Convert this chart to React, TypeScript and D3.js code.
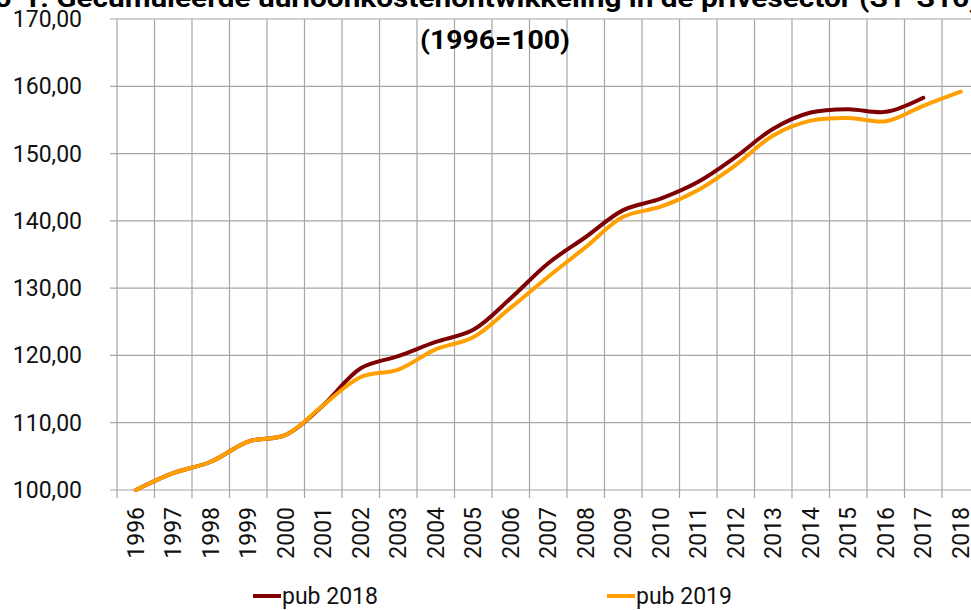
import React, { useRef, useEffect } from 'react';
import * as d3 from 'd3';

const years = ['1996', '1997', '1998', '1999', '2000', '2001', '2002', '2003', '2004', '2005', '2006', '2007',
  '2008', '2009', '2010', '2011', '2012', '2013', '2014', '2015', '2016', '2017', '2018'];
const pub2018 = [100, 102.5, 104.2, 107.2, 108.2, 112.6, 118.1, 119.9, 122.0, 123.8, 128.5, 133.7,
  137.6, 141.6, 143.3, 145.8, 149.5, 153.7, 156.1, 156.6, 156.2, 158.3];
const pub2019 = [100, 102.5, 104.2, 107.2, 108.2, 112.6, 116.8, 117.9, 120.9, 122.7, 127.1, 131.7,
  136.1, 140.6, 142.1, 144.6, 148.3, 152.7, 154.9, 155.3, 154.8, 157.1, 159.2];
const yTicks = [100, 110, 120, 130, 140, 150, 160, 170];
const seriesNames = ['pub 2018', 'pub 2019'];
const seriesColors = ['#7f0000', '#ffa000'];

const App = () => {
  const ref = useRef<SVGSVGElement>(null);
  useEffect(() => {
    const svg = d3.select(ref.current);
    svg.selectAll('*').remove();
    const font = 'Roboto, sans-serif';
    const grid = '#a6a6a6';

    const x = d3.scaleBand().domain(years).range([117, 979.5]);
    const y = d3.scaleLinear().domain([100, 170]).range([490, 19]);
    const cx = (d: string) => (x(d) as number) + x.bandwidth() / 2;

    // horizontal grid + y ticks
    svg.append('g').selectAll('line').data(yTicks).join('line')
      .attr('x1', 110).attr('x2', 980).attr('y1', d => y(d)).attr('y2', d => y(d))
      .attr('stroke', grid).attr('stroke-width', 1.2);
    // vertical grid at band boundaries
    const bounds = years.map(d => x(d) as number);
    svg.append('g').selectAll('line').data(bounds).join('line')
      .attr('x1', d => d).attr('x2', d => d).attr('y1', y(170)).attr('y2', 498)
      .attr('stroke', grid).attr('stroke-width', 1.2);

    svg.append('g').selectAll('text').data(yTicks).join('text')
      .attr('x', 82).attr('y', d => y(d) + 8).attr('text-anchor', 'end')
      .style('font-family', font).style('font-size', '23px').style('fill', '#111')
      .text(d => d.toFixed(2).replace('.', ','));

    svg.append('g').selectAll('text').data(years).join('text')
      .attr('transform', d => `translate(${cx(d) + 8},507) rotate(-90)`)
      .attr('text-anchor', 'end')
      .style('font-family', font).style('font-size', '23px').style('fill', '#111')
      .text(d => d);

    const line = d3.line<number>()
      .x((_, i) => cx(years[i]))
      .y(d => y(d))
      .curve(d3.curveCatmullRom.alpha(0.5));

    [pub2018, pub2019].forEach((s, i) => {
      svg.append('path').attr('d', line(s) as string).attr('fill', 'none')
        .attr('stroke', seriesColors[i]).attr('stroke-width', 4)
        .attr('stroke-linecap', 'round').attr('stroke-linejoin', 'round');
    });

    // title (first line is cut off at the top of the picture)
    svg.append('text').attr('x', 487).attr('y', 7).attr('text-anchor', 'middle')
      .attr('textLength', 985).attr('lengthAdjust', 'spacingAndGlyphs')
      .style('font-family', font).style('font-weight', 'bold').style('font-size', '25px').style('fill', '#000')
      .text('5-1: Gecumuleerde uurloonkostenontwikkeling in de privésector (S1-S16)');
    svg.append('text').attr('x', 495).attr('y', 49).attr('text-anchor', 'middle')
      .attr('textLength', 150).attr('lengthAdjust', 'spacingAndGlyphs')
      .style('font-family', font).style('font-weight', 'bold').style('font-size', '26px').style('fill', '#000')
      .text('(1996=100)');

    // legend
    const legX = [253, 607];
    seriesNames.forEach((n, i) => {
      svg.append('line').attr('x1', legX[i]).attr('x2', legX[i] + 28).attr('y1', 596).attr('y2', 596)
        .attr('stroke', seriesColors[i]).attr('stroke-width', 4);
      svg.append('text').attr('x', legX[i] + 29).attr('y', 604)
        .style('font-family', font).style('font-size', '23px').style('fill', '#111').text(n);
    });
  }, []);

  return <svg ref={ref} width={971} height={610} style={{ position: 'absolute', left: 0, top: 0, background: '#fff' }} />;
};

export default App;
